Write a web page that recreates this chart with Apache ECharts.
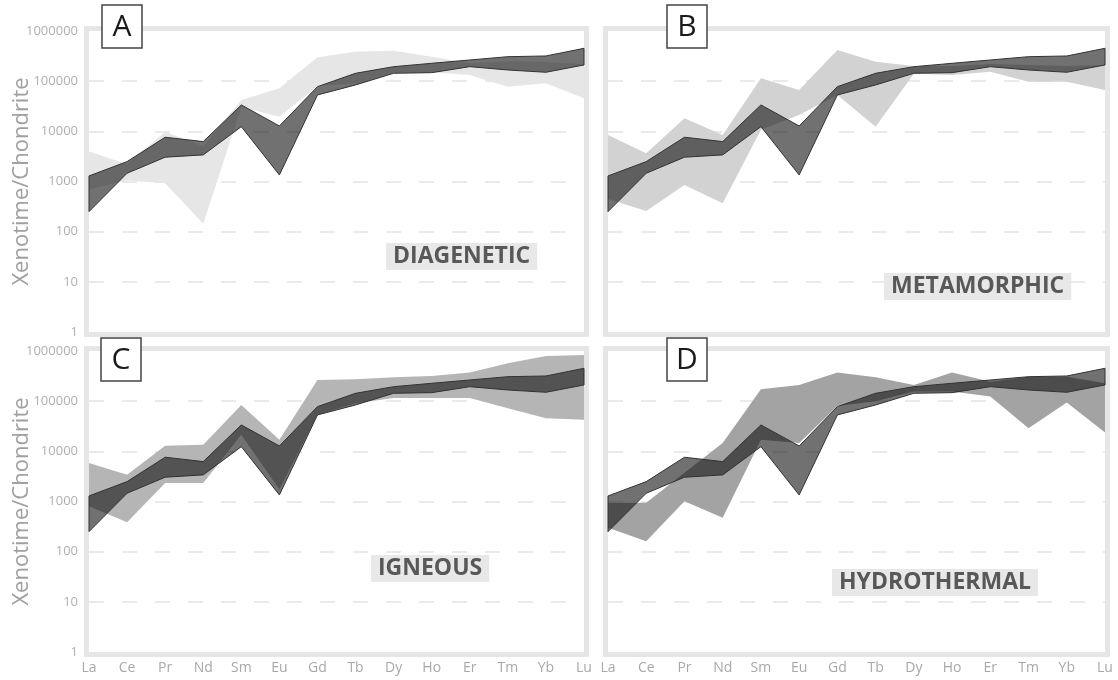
<!DOCTYPE html>
<html>
<head>
<meta charset="utf-8">
<script src="https://cdn.jsdelivr.net/npm/echarts@6/dist/echarts.min.js"></script>
<style>
html, body { margin: 0; padding: 0; background: #fff; }
#chart { width: 1118px; height: 680px; }
</style>
</head>
<body>
<div id="chart"></div>
<script>
// REE, chondrite normalised
var elements = ['La', 'Ce', 'Pr', 'Nd', 'Sm', 'Eu', 'Gd', 'Tb', 'Dy', 'Ho', 'Er', 'Tm', 'Yb', 'Lu'];

// reference range (dark band, same in every panel)
var refLow  = [251, 1460, 3050, 3390, 12400, 1350, 53100, 84000, 143600, 147700, 194500, 167000, 150400, 210300];
var refHigh = [1290, 2490, 7630, 6240, 33600, 12800, 77700, 143600, 194500, 227000, 264500, 307700, 317700, 452000];

// group ranges
var diaLow  = [700, 1050, 925, 143, 30600, 19600, 80000, 90000, 150000, 150000, 133000, 77700, 90800, 45600];
var diaHigh = [3950, 2200, 9860, 5000, 42200, 72300, 299000, 387000, 405000, 307700, 227000, 250000, 240000, 220000];

var metLow  = [450, 257, 855, 370, 10700, 21200, 53000, 12400, 140000, 133000, 154000, 97700, 97700, 66800];
var metHigh = [8470, 3670, 18200, 8470, 114000, 66800, 419000, 244000, 200000, 200000, 220000, 210000, 200000, 210000];

var ignLow  = [803, 386, 2340, 2340, 21400, 1730, 53400, 91000, 115000, 115000, 115000, 72600, 45900, 42500];
var ignHigh = [5850, 3430, 12900, 13500, 84300, 17000, 265000, 274000, 300000, 318000, 371000, 569000, 796000, 832000];

var hydLow  = [299, 162, 1010, 472, 17000, 14600, 80000, 100000, 155000, 155000, 124000, 29000, 93800, 23800];
var hydHigh = [937, 940, 3760, 14600, 173000, 211000, 371000, 300000, 211000, 371000, 245000, 308000, 308000, 228000];

var myChart = echarts.init(document.getElementById('chart'));

var grids = [
    {left: 89, top: 31, width: 495, height: 301},
    {left: 608, top: 31, width: 497, height: 301},
    {left: 89, top: 351, width: 495, height: 301},
    {left: 608, top: 351, width: 497, height: 301}
];

var panels = [
    {name: 'DIAGENETIC', low: diaLow, high: diaHigh, fill: '#e6e6e6', letter: 'A', box: [102, 5], tag: [386, 243]},
    {name: 'METAMORPHIC', low: metLow, high: metHigh, fill: '#d2d2d2', letter: 'B', box: [667, 5], tag: [884, 273]},
    {name: 'IGNEOUS', low: ignLow, high: ignHigh, fill: '#b5b5b5', letter: 'C', box: [101, 338], tag: [371, 555]},
    {name: 'HYDROTHERMAL', low: hydLow, high: hydHigh, fill: '#a3a3a3', letter: 'D', box: [667, 338], tag: [832, 569]}
];

// one polygon per band, built from the axis scales
function band(idx, name, low, high, fill, stroke, z) {
    return {
        type: 'custom',
        name: name,
        xAxisIndex: idx,
        yAxisIndex: idx,
        z: z,
        silent: true,
        data: elements.map(function (el, i) { return [i, low[i], high[i]]; }),
        encode: {x: 0, y: [1, 2]},
        renderItem: function (params, api) {
            if (params.dataIndexInside !== 0) return null;
            var n = params.dataInsideLength;
            var pts = [];
            for (var i = 0; i < n; i++) pts.push(api.coord([api.value(0, i), api.value(2, i)]));
            for (var j = n - 1; j >= 0; j--) pts.push(api.coord([api.value(0, j), api.value(1, j)]));
            return {
                type: 'polygon',
                shape: {points: pts},
                style: {fill: fill, stroke: stroke || null, lineWidth: stroke ? 1 : 0}
            };
        }
    };
}

var xAxes = [], yAxes = [], series = [], titles = [], graphics = [];

grids.forEach(function (g, i) {
    var bottom = i >= 2, leftCol = i % 2 === 0;
    xAxes.push({
        type: 'category',
        gridIndex: i,
        data: elements,
        boundaryGap: false,
        axisLine: {show: false},
        axisTick: {show: bottom, length: 4, lineStyle: {color: '#e0e0e0'}},
        axisLabel: {show: bottom, interval: 0, color: '#a8a8a8', fontSize: 14, fontFamily: 'Open Sans', margin: 9},
        splitLine: {show: false}
    });
    yAxes.push({
        type: 'log',
        logBase: 10,
        gridIndex: i,
        min: 1,
        max: 1000000,
        axisLine: {show: false},
        axisTick: {show: false},
        axisLabel: {
            show: leftCol, color: '#b0b0b0', fontSize: 13, fontFamily: 'Open Sans', margin: 11,
            formatter: function (v) { return String(Math.round(v)); }
        },
        splitLine: {
            show: true, showMinLine: false, showMaxLine: false,
            lineStyle: {color: '#e4e4e4', width: 1.5, type: [15, 18]}
        },
        name: leftCol ? 'Xenotime/Chondrite' : '',
        nameLocation: 'middle',
        nameGap: 56,
        nameMoveOverlap: false,
        nameTextStyle: {color: '#a0a0a0', fontSize: 22, fontFamily: 'Open Sans'}
    });

    var p = panels[i];
    series.push(band(i, p.name, p.low, p.high, p.fill, null, 2));
    series.push(band(i, 'reference', refLow, refHigh, 'rgba(18,18,18,0.6)', '#333', 3));

    titles.push({
        text: p.name,
        left: p.tag[0],
        top: p.tag[1],
        padding: [2, 7],
        backgroundColor: '#e8e8e8',
        textStyle: {fontSize: 23, fontWeight: 'bold', color: '#585858', fontFamily: 'Open Sans'}
    });

    // panel frame
    graphics.push({
        type: 'rect',
        z: 1,
        shape: {x: g.left - 2.5, y: g.top - 2.5, width: g.width + 5, height: g.height + 5},
        style: {fill: 'none', stroke: '#e6e6e6', lineWidth: 5}
    });
    // letter box
    graphics.push({
        type: 'rect',
        z: 20,
        shape: {x: p.box[0], y: p.box[1], width: 40, height: 43},
        style: {fill: '#fff', stroke: '#444', lineWidth: 1.5}
    });
    graphics.push({
        type: 'text',
        z: 21,
        x: p.box[0] + 20,
        y: p.box[1] + 22,
        style: {
            text: p.letter, font: '30px "Open Sans"', fill: '#1a1a1a',
            align: 'center', verticalAlign: 'middle'
        }
    });
});

var option = {
    animation: false,
    title: titles,
    grid: grids,
    xAxis: xAxes,
    yAxis: yAxes,
    series: series,
    graphic: graphics
};

myChart.setOption(option);
</script>
</body>
</html>
